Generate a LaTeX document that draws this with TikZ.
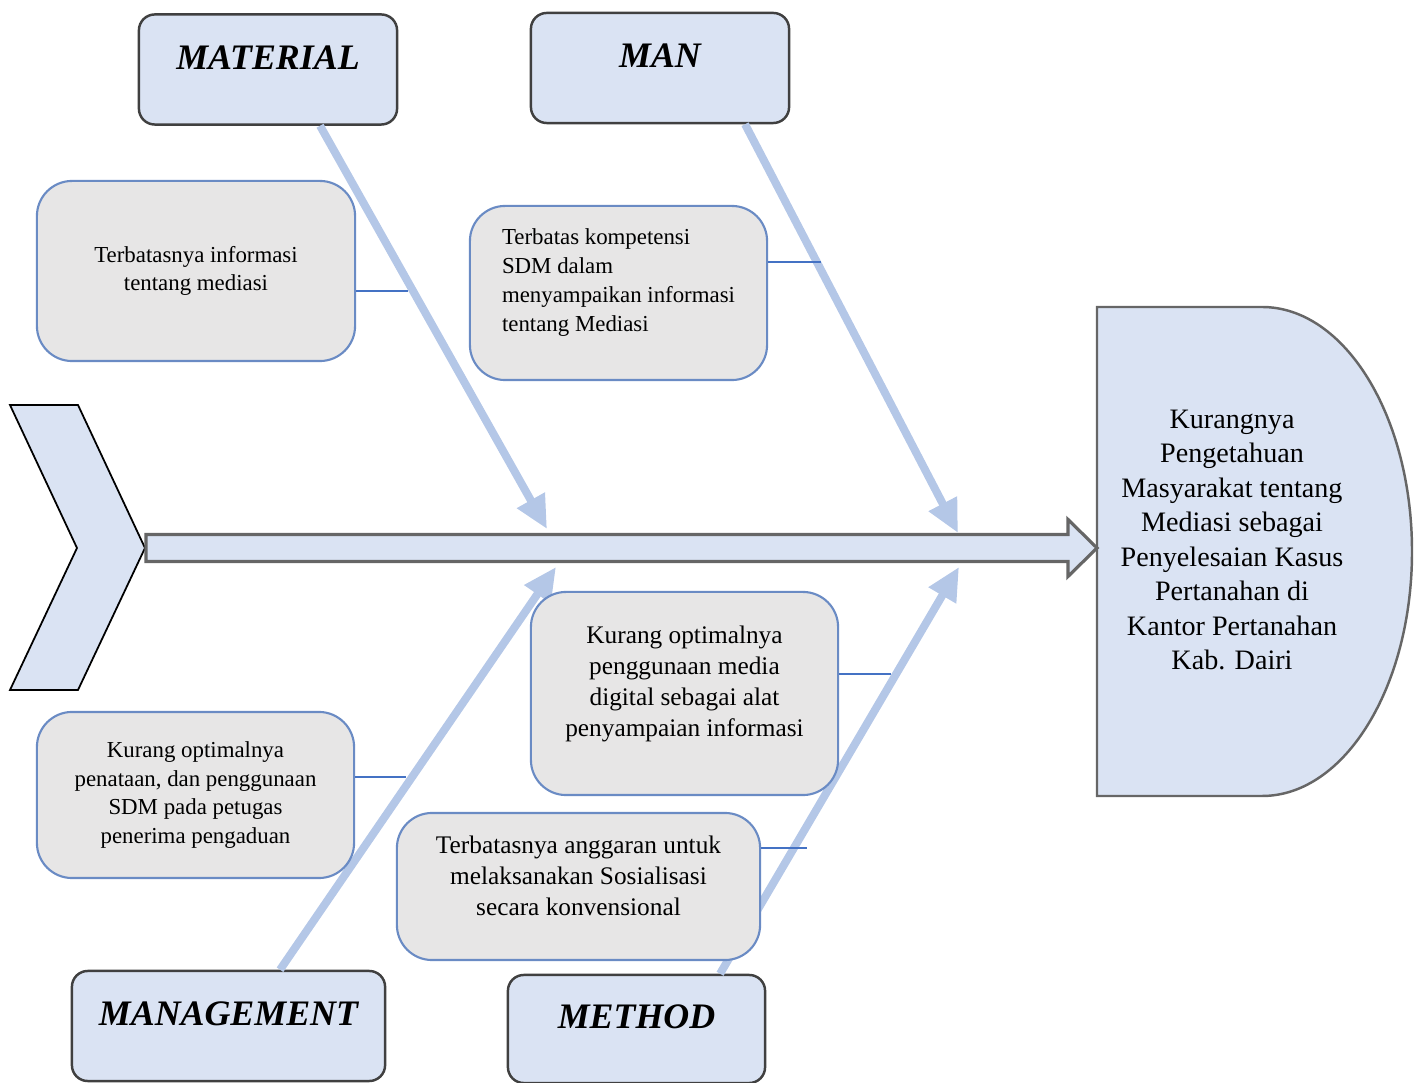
\documentclass[tikz,border=0pt]{standalone}
\usepackage{fontspec}
\setmainfont{Liberation Serif}
\usetikzlibrary{arrows.meta,positioning,calc}
\definecolor{HeadBlue}{HTML}{DAE3F3}
\definecolor{BoneBlue}{HTML}{B4C7E7}
\definecolor{CauseGray}{HTML}{E7E6E6}
\definecolor{CauseEdge}{HTML}{6A8BC4}
\definecolor{TickBlue}{HTML}{4472C4}
\definecolor{Ink}{HTML}{404040}

\begin{document}
\begin{tikzpicture}[x=0.01cm,y=-0.01cm,
  category/.style={draw=Ink,line width=0.7pt,rounded corners=4.5pt,fill=HeadBlue,minimum width=2.58cm,minimum height=1.1cm,inner sep=0pt,text height=7pt,text depth=7pt,font=\fontsize{10.2}{12}\selectfont\bfseries\itshape},
  cause/.style={draw=CauseEdge,line width=0.6pt,rounded corners=10pt,fill=CauseGray,inner sep=0pt,align=center,font=\fontsize{6.5}{8.2}\selectfont},
  bigcause/.style={cause,font=\fontsize{7.2}{8.8}\selectfont},
  bone/.style={-{Triangle[length=0.33cm,width=0.3cm]},line width=0.08cm,draw=BoneBlue},
  tick/.style={draw=TickBlue,line width=0.45pt},
  spine/.style={draw=Ink!80,line width=0.9pt,fill=HeadBlue,line join=miter}
]
\useasboundingbox (0,0) rectangle (1421,1083);

% tail and head
\draw[draw=black,line width=0.5pt,fill=HeadBlue] (10,405) -- (78,405) -- (145,548) -- (78,690) -- (10,690) -- (77,548) -- cycle;
\coordinate (tail) at (146,548);
\draw[draw=Ink!80,line width=0.7pt,fill=HeadBlue] (1097,307) -- (1262,307)
  arc[start angle=-90,end angle=90,x radius=150,y radius=244.5] -- (1097,796) -- cycle;
\coordinate (mouth) at (1097,548);
\node[align=center,font=\fontsize{8}{9.8}\selectfont] (head) at (1232,540)
  {Kurangnya\\Pengetahuan\\Masyarakat tentang\\Mediasi sebagai\\Penyelesaian Kasus\\Pertanahan di\\Kantor Pertanahan\\Kab. Dairi};

% spine
\draw[spine] ($(tail)+(0,-13.5)$) -- ($(mouth)+(-29,-13.5)$) -- ++(0,-15) -- (mouth)
  -- ($(mouth)+(-29,28.5)$) -- ++(0,-15) -- ($(tail)+(0,13.5)$) -- cycle;

% categories
\node[category] (material) at (268,69.5) {MATERIAL};
\node[category] (man) at (660,68) {MAN};
\node[category,minimum width=3.13cm] (management) at (228.5,1026) {MANAGEMENT};
\node[category,minimum width=2.57cm,minimum height=1.08cm] (method) at (636.5,1029) {METHOD};

\coordinate (tipA) at (547,529);
\coordinate (tipB) at (958,533);
\coordinate (tipC) at (556,567);
\coordinate (tipD) at (959,567);
\draw[bone] ([xshift=0.52cm]material.south) -- (tipA);
\draw[bone] ([xshift=0.85cm]man.south) -- (tipB);
\draw[bone] ([xshift=0.515cm]management.north) -- (tipC);
\draw[bone] ([xshift=0.835cm]method.north) -- (tipD);

% causes
\node[cause,minimum width=3.18cm,minimum height=1.8cm] (c1) at (196,271)
  {Terbatasnya informasi\\tentang mediasi};
\node[cause,align=left,text depth=7.3pt,minimum width=2.97cm,minimum height=1.74cm] (c2) at (618.5,293)
  {Terbatas kompetensi\\SDM dalam\\menyampaikan informasi\\tentang Mediasi};
\node[bigcause,text depth=7pt,minimum width=3.07cm,minimum height=2.03cm] (c3) at (684.5,693.5)
  {Kurang optimalnya\\penggunaan media\\digital sebagai alat\\penyampaian informasi};
\node[cause,minimum width=3.17cm,minimum height=1.66cm] (c4) at (195.5,795)
  {Kurang optimalnya\\penataan, dan penggunaan\\SDM pada petugas\\penerima pengaduan};
\node[bigcause,text depth=6pt,minimum width=3.63cm,minimum height=1.47cm] (c5) at (578.5,886.5)
  {Terbatasnya anggaran untuk\\melaksanakan Sosialisasi\\secara konvensional};

\draw[tick] ([yshift=-0.2cm]c1.east) -- ++(52,0);
\draw[tick] ([yshift=0.31cm]c2.east) -- ++(53,0);
\draw[tick] ([yshift=0.195cm]c3.east) -- ++(52,0);
\draw[tick] ([yshift=0.18cm]c4.east) -- ++(51,0);
\draw[tick] ([yshift=0.385cm]c5.east) -- ++(46,0);
\end{tikzpicture}
\end{document}
